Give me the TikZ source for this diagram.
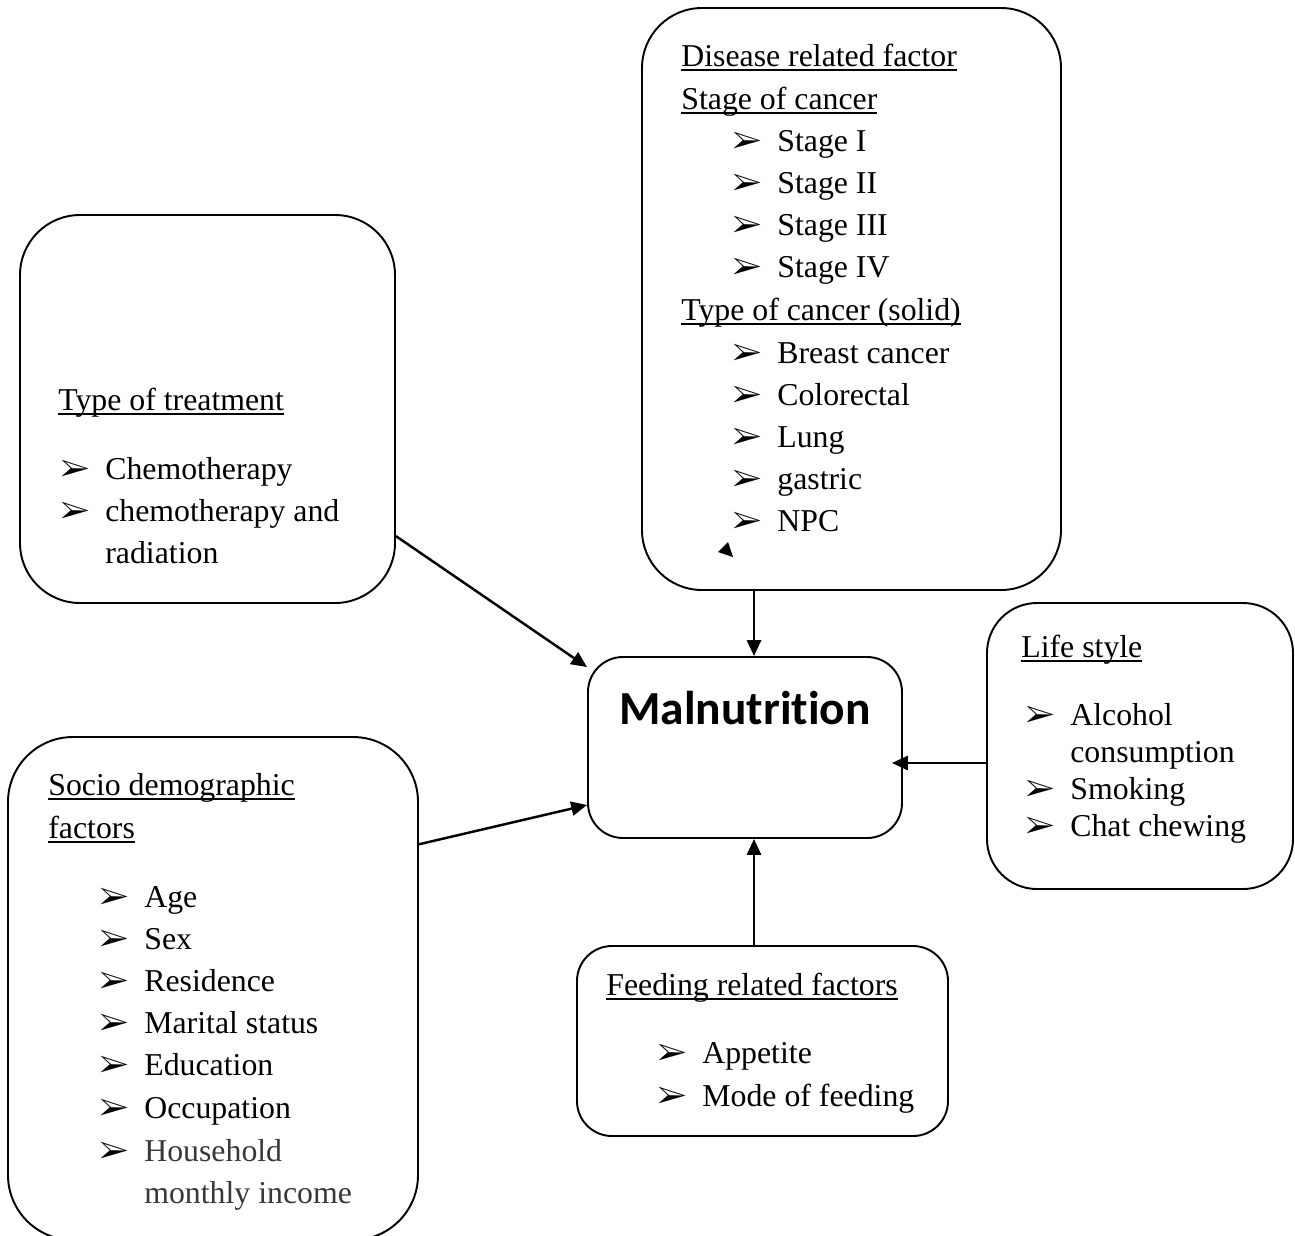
\documentclass[tikz,border=0pt]{standalone}
\usepackage{fontspec}
\setmainfont{Liberation Serif}
\newfontfamily\malfont[Ligatures=NoCommon]{Carlito}
\usepackage{pifont}
\usetikzlibrary{arrows.meta,fit}
\newcommand\txtsize{\fontsize{18.1pt}{23.9pt}\selectfont}
\newcommand\bul{\llap{\makebox[0.9cm][l]{\color{black}\ding{226}}}}
\newcommand\uln[1]{\setbox0\hbox{#1}\rlap{\rule[-2.8pt]{\wd0}{0.9pt}}\box0}
\tikzset{
  card/.style={draw,rounded corners=#1,line width=1.1pt,inner sep=0pt},
  card/.default=1.2cm,
  head/.style={anchor=base west,inner sep=0pt,font=\txtsize},
  item/.style={head,execute at begin node=\bul},
  link/.style={-{Triangle[length=9pt,width=8pt]},line width=1.4pt},
}

\begin{document}
\begin{tikzpicture}[x=0.02cm,y=-0.02cm]
  \useasboundingbox (0,0) rectangle (1295,1235);
  % boxes
  \node[card,fit={(642,8)(1061,590)}] (dis) {};
  \node[card,fit={(20,215)(395,603)}] (trt) {};
  \node[card=0.7cm,fit={(588,657)(902,838)}] (mal) {};
  \node[card=1cm,fit={(987,603)(1293,889)}] (life) {};
  \node[card=1.3cm,fit={(8,737)(418,1240)}] (soc) {};
  \node[card=0.7cm,fit={(577,946)(948,1136)}] (fed) {};

  % disease related factor
  \node[head] (dist) at (681,66) {\uln{Disease related factor}};
  \node[head] (stgt) at (681,109) {\uln{Stage of cancer}};
  \foreach \t [count=\i from 0] in {Stage I,Stage II,Stage III,Stage IV}
    \node[item] (stg\i) at (777,{151+42.3*\i}) {\t};
  \node[head] (typt) at (681,320) {\uln{Type of cancer (solid)}};
  \foreach \t [count=\i from 0] in {Breast cancer,Colorectal,Lung,gastric,NPC}
    \node[item] (typ\i) at (777,{363+42.2*\i}) {\t};
  \fill (718,552) -- (728,542) -- (733,557) -- cycle;

  % treatment
  \node[head] (trtt) at (58,410) {\uln{Type of treatment}};
  \node[item] (trt0) at (105,479) {Chemotherapy};
  \node[item] (trt1) at (105,521) {chemotherapy and};
  \node[head] (trt2) at (105,563) {radiation};

  % life style
  \node[head] (lift) at (1021,657) {\uln{Life style}};
  \node[item] (lif0) at (1070,725) {Alcohol};
  \node[head] (lif1) at (1070,762) {consumption};
  \node[item] (lif2) at (1070,799) {Smoking};
  \node[item] (lif3) at (1070,836) {Chat chewing};

  % socio demographic
  \node[head] (soct) at (48,795) {\uln{Socio demographic}};
  \node[head] (soct2) at (48,838) {\uln{factors}};
  \foreach \t [count=\i from 0] in {Age,Sex,Residence,Marital status,Education,Occupation}
    \node[item] (soc\i) at (144,{907+42.2*\i}) {\t};
  \node[item,text=black!78] (soc6) at (144,1161) {Household};
  \node[head,text=black!78] (soc7) at (144,1203) {monthly income};

  % feeding
  \node[head] (fedt) at (606,995) {\uln{Feeding related factors}};
  \node[item] (fed0) at (702,1063) {Appetite};
  \node[item] (fed1) at (702,1106) {Mode of feeding};

  % outcome
  \node[font=\malfont\bfseries\fontsize{27pt}{30pt}\selectfont,inner sep=0pt] (malt) at (745,708) {Malnutrition};

  % arrows
  \coordinate (vx) at (754,0);
  \coordinate (hy) at (0,763);
  \draw[link] (trt.-34.4) -- (mal.153.7);
  \draw[link] (dis.south -| vx) -- (mal.north -| vx);
  \draw[link,shorten >=-0.22cm] (life.west |- hy) -- (mal.east |- hy);
  \draw[link] (soc.35.5) -- (mal.200.9);
  \draw[link] (fed.north -| vx) -- (mal.south -| vx);
\end{tikzpicture}
\end{document}
